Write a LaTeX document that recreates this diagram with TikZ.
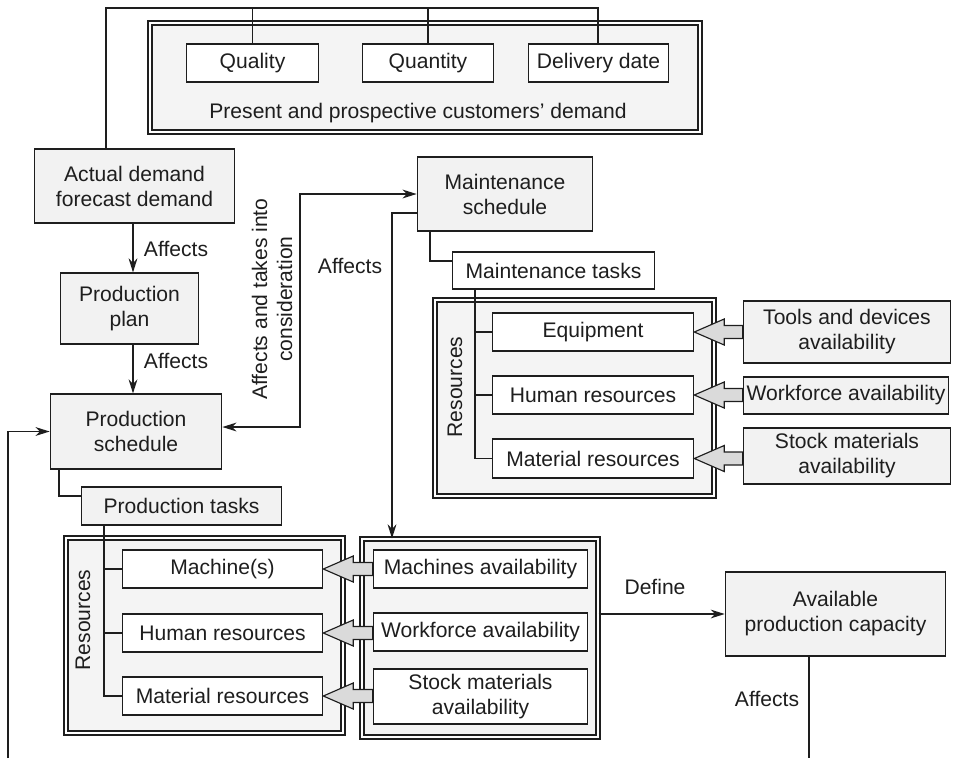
\documentclass[tikz,border=0pt]{standalone}
\usepackage{fontspec}
\setmainfont{Liberation Sans}
\usetikzlibrary{fit,calc,arrows.meta}

\definecolor{ink}{HTML}{1E1E1E}
\definecolor{boxgray}{HTML}{F2F2F2}
\definecolor{panelgray}{HTML}{F4F4F4}
\definecolor{fatgray}{HTML}{DADADA}

\tikzset{
  txt/.style={font=\fontsize{12}{14.2}\selectfont, text=ink},
  % a box given by its left, top, right and bottom edges (1 unit = 0.02cm)
  span/.style n args={4}{anchor=center, at={({(#1+#3)/2},{(#2+#4)/2})},
                         minimum width={(#3-#1)*0.56693pt},
                         minimum height={(#4-#2)*0.56693pt}},
  base/.style={txt, draw=ink, line width=0.8pt, inner sep=0pt, align=center},
  graybox/.style={base, fill=boxgray},
  whitebox/.style={base, fill=white},
  panel/.style={draw=ink, line width=0.65pt, double=white, double distance=1.6pt,
                fill=panelgray, inner sep=0pt},
  conn/.style={draw=ink, line width=0.8pt},
  lbl/.style={txt, inner sep=0pt, align=center},
  fat/.style={draw=ink, line width=0.65pt, fill=fatgray, line join=miter},
  >={Stealth[length=8pt,width=5pt,inset=2.5pt]},
}

% wide hollow arrow from the left side of #1 to the right side of #2
\newcommand\fatarrow[2]{%
  \draw[fat] let \p1=(#1.west), \p2=(#2.east) in
    (\x2,\y2) -- (\x2+17pt,\y2+7.4pt) -- (\x2+17pt,\y2+3.7pt) -- (\x1,\y2+3.7pt)
    -- (\x1,\y2-3.7pt) -- (\x2+17pt,\y2-3.7pt) -- (\x2+17pt,\y2-7.4pt) -- cycle;}

\begin{document}
\begin{tikzpicture}[x=0.02cm, y=-0.02cm]
\useasboundingbox (0,0) rectangle (953,758);

% ---- panels ----
\node[panel, fit={(150,23) (700,132)}] (cust) {};
\node[panel, fit={(435,300) (714,496)}] (mres) {};
\node[panel, fit={(66,538) (343,733)}] (pres) {};
\node[panel, fit={(362,539) (598,737)}] (avo) {};

% ---- customers' demand ----
\node[whitebox, span={186}{44}{319}{82}] (q) {Quality};
\node[whitebox, span={362}{44}{494}{82}] (qt) {Quantity};
\node[whitebox, span={528}{44}{669}{82}] (dd) {Delivery date};
\node[lbl] (custlbl) at (418,113) {Present and prospective customers’ demand};

% ---- planning chain ----
\node[graybox, span={34}{149}{235}{223}] (ad) {Actual demand\\forecast demand};
\node[graybox, span={60}{273}{199}{344}] (pp) {Production\\plan};
\node[graybox, span={50}{394}{222}{469}] (ps) {Production\\schedule};
\node[graybox, span={81}{487}{282}{525}] (pt) {Production tasks};

% ---- maintenance ----
\node[graybox, span={417}{157}{593}{231}] (ms) {Maintenance\\schedule};
\node[whitebox, span={452}{252}{655}{289}] (mt) {Maintenance tasks};
\node[whitebox, span={492}{313}{694}{351}] (eq) {Equipment};
\node[whitebox, span={492}{376}{694}{414}] (hr2) {Human resources};
\node[whitebox, span={492}{439}{694}{478}] (mr2) {Material resources};
\node[lbl, rotate=90] (reslblM) at (455,387) {Resources};

\node[graybox, span={743}{301}{951}{363}] (tda) {Tools and devices\\availability};
\node[graybox, span={743}{377}{949}{414}] (wfa2) {Workforce availability};
\node[graybox, span={743}{428}{951}{484}] (sma2) {Stock materials\\availability};

% ---- production resources ----
\node[whitebox, span={122}{550}{323}{588}] (mach) {Machine(s)};
\node[whitebox, span={122}{614}{323}{652}] (hr1) {Human resources};
\node[whitebox, span={122}{677}{323}{715}] (mr1) {Material resources};
\node[lbl, rotate=90] (reslblP) at (83,620) {Resources};

\node[whitebox, span={373}{550}{588}{588}] (maa) {Machines availability};
\node[whitebox, span={373}{613}{588}{651}] (wfa1) {Workforce availability};
\node[whitebox, span={373}{669}{588}{724}] (sma1) {Stock materials\\availability};

\node[graybox, span={725}{572}{946}{656}] (cap) {Available\\production capacity};

% ---- demand loop on top ----
\coordinate (loopL) at (106,8);
\coordinate (loopR) at (598,8);
\draw[conn] (ad.north -| loopL) -- (loopL) -- (loopR) -- (dd.north -| loopR);
\draw[conn] (q.north) -- (q.north |- loopL);
\draw[conn] (qt.north) -- (qt.north |- loopL);

% ---- planning arrows ----
\coordinate (col) at (133,0);
\draw[conn,->] (ad.south -| col) -- (pp.north -| col);
\draw[conn,->] (pp.south -| col) -- (ps.north -| col);
\node[lbl] (aff1) at (176,249) {Affects};
\node[lbl] (aff2) at (176,361) {Affects};

\coordinate (riser) at (300,427);
\draw[conn,<->] (ps.east |- riser) -- (riser) |- (ms.west);
\node[lbl, rotate=90] (takelbl) at (272,299) {Affects and takes into\\consideration};

\coordinate (drop) at (392,213);
\draw[conn,->] (ms.west |- drop) -- (drop) -- (drop |- avo.north);
\node[lbl] (aff3) at (350,266) {Affects};

\coordinate (mbend) at (430,261);
\draw[conn] (ms.south -| mbend) -- (mbend) -- (mbend -| mt.west);
\coordinate (pbend) at (59,496);
\draw[conn] (ps.south -| pbend) -- (pbend) -- (pbend -| pt.west);

% ---- resource trees ----
\coordinate (ptree) at (104,0);
\draw[conn] (pt.south -| ptree) |- (mr1.west);
\draw[conn] (mach.west) -- (mach.west -| ptree);
\draw[conn] (hr1.west) -- (hr1.west -| ptree);

\coordinate (mtree) at (475,0);
\draw[conn] (mt.south -| mtree) |- (mr2.west);
\draw[conn] (eq.west) -- (eq.west -| mtree);
\draw[conn] (hr2.west) -- (hr2.west -| mtree);

% ---- availability feeds ----
\fatarrow{maa}{mach}
\fatarrow{wfa1}{hr1}
\fatarrow{sma1}{mr1}
\fatarrow{tda}{eq}
\fatarrow{wfa2}{hr2}
\fatarrow{sma2}{mr2}

% ---- capacity ----
\draw[conn,->] (avo.east |- cap.west) -- (cap.west);
\node[lbl] (deflbl) at (655,587) {Define};
\coordinate (capdrop) at (809,758);
\draw[conn] (cap.south -| capdrop) -- (capdrop);
\node[lbl] (aff4) at (767,699) {Affects};

% ---- feedback into the production schedule ----
\coordinate (fb) at (8,758);
\draw[conn,->] (fb) |- (ps.west);

\end{tikzpicture}
\end{document}
